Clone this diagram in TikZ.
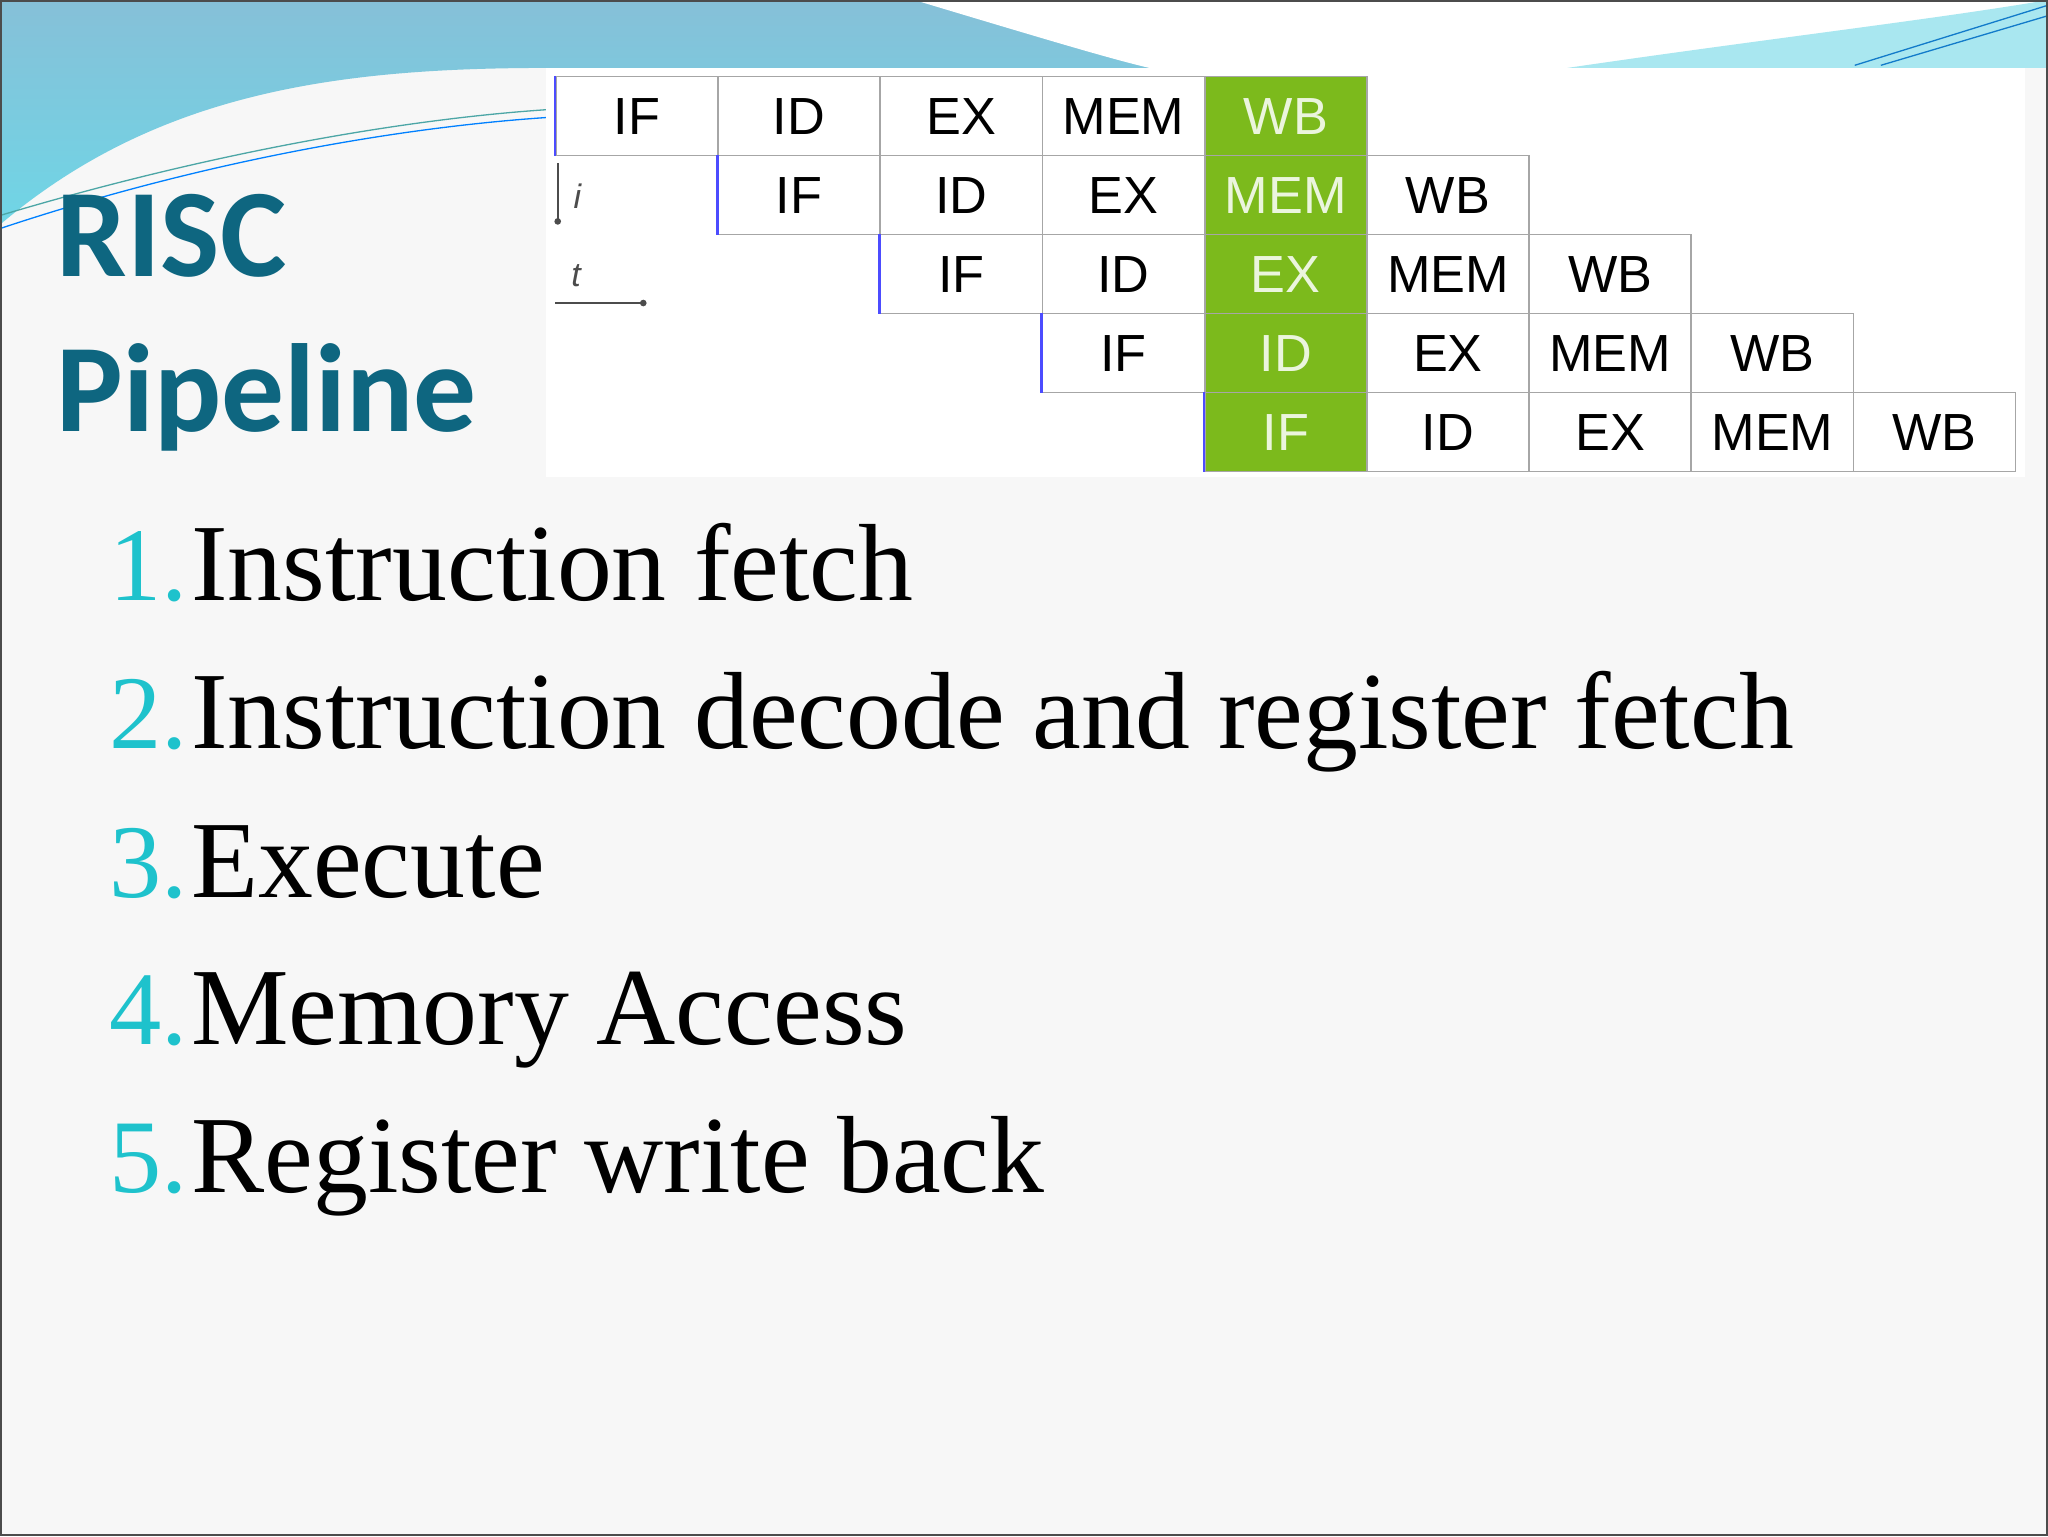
\documentclass[tikz,border=0pt]{standalone}
\usepackage{fontspec}
\usetikzlibrary{arrows.meta}
\setmainfont{Liberation Serif}
\newfontfamily\titlefont{Carlito}
\newfontfamily\cellfont{Liberation Sans}
\definecolor{titleblue}{HTML}{0E6680}
\definecolor{numcyan}{HTML}{1EC2CC}
\definecolor{cellgreen}{HTML}{7CBA1C}
\definecolor{slidebg}{HTML}{F7F7F7}
\definecolor{bandA}{HTML}{86C0D8}
\definecolor{bandB}{HTML}{6FD6E6}
\begin{document}
\begin{tikzpicture}[x=1pt,y=-1pt,
  cell/.style={draw=gray!70,line width=1.2pt,minimum width=124pt,minimum height=60.5pt,anchor=north west,inner sep=0pt,font=\cellfont\fontsize{40}{40}\selectfont},
  gcell/.style={cell,fill=cellgreen,text=white!85!cellgreen},
  item/.style={anchor=base west,font=\fontsize{84}{90}\selectfont},
  num/.style={anchor=base west,text=numcyan,font=\fontsize{80}{90}\selectfont}]
\useasboundingbox (0,0) rectangle (1568,1176);
\fill[slidebg] (0,0) rectangle (1568,1176);
% top band
\begin{scope}
\clip (0,0) -- (1568,0) -- (1568,52) -- (420,52) .. controls (260,52) and (120,70) .. (0,172) -- cycle;
\shade[top color=bandA,bottom color=bandB] (0,0) rectangle (1568,175);
\end{scope}
\fill[white] (700,0) .. controls (800,30) and (850,45) .. (880,52) -- (1568,52) -- (1568,0) -- cycle;
\fill[bandB!60] (1200,52) .. controls (1350,30) and (1480,15) .. (1568,0) -- (1568,52) -- cycle;
\draw[teal!70,line width=1pt] (0,165) .. controls (150,120) and (300,92) .. (418,84);
\draw[blue!50!cyan,line width=1pt] (0,175) .. controls (150,125) and (300,98) .. (418,90);
\draw[cyan!60!blue,line width=1pt] (1420,50) -- (1568,4);
\draw[cyan!60!blue,line width=1pt] (1440,50) -- (1568,12);
% title
\node[anchor=base west,text=titleblue,font=\titlefont\bfseries\fontsize{96}{96}\selectfont] (t1) at (40,212) {RISC};
\node[anchor=base west,text=titleblue,font=\titlefont\bfseries\fontsize{96}{96}\selectfont] (t2) at (40,330) {Pipeline};
% table
\fill[white] (418,52) rectangle (1550,365);
\foreach \r in {0,...,4}{
  \foreach \c/\lab in {0/IF,1/ID,2/EX,3/MEM,4/WB}{
    \pgfmathtruncatemacro{\col}{\r+\c}
    \ifnum\col=4
      \node[gcell] (c\r\c) at ({425+124.2*\col},{58+60.5*\r}) {\lab};
    \else
      \node[cell] (c\r\c) at ({425+124.2*\col},{58+60.5*\r}) {\lab};
    \fi
  }
  \draw[blue!70,line width=2pt] (c\r0.north west) -- (c\r0.south west);
}
\coordinate (ia) at (427,125); \coordinate (ib) at (427,172);
\draw[-{Circle[length=5pt]},line width=1.2pt,gray!60!black] (ia) -- (ib);
\node[font=\cellfont\itshape\fontsize{26}{26}\selectfont,text=gray!60!black] (il) at (442,150) {i};
\node[font=\cellfont\itshape\fontsize{26}{26}\selectfont,text=gray!60!black] (tl) at (441,211) {t};
\coordinate (ta) at (425,232); \coordinate (tb) at (495,232);
\draw[-{Circle[length=5pt]},line width=1.2pt,gray!60!black] (ta) -- (tb);
% list
\node[num] (n1) at (80,460) {1.}; \node[item] (l1) at (143,460) {Instruction fetch};
\node[num] (n2) at (80,573) {2.}; \node[item] (l2) at (143,573) {Instruction decode and register fetch};
\node[num] (n3) at (80,687) {3.}; \node[item] (l3) at (143,687) {Execute};
\node[num] (n4) at (80,800) {4.}; \node[item] (l4) at (143,800) {Memory Access};
\node[num] (n5) at (80,913) {5.}; \node[item] (l5) at (143,913) {Register write back};
\draw[gray!60!black,line width=1.5pt] (0.75,0.75) rectangle (1567.25,1175.25);
\end{tikzpicture}
\end{document}
